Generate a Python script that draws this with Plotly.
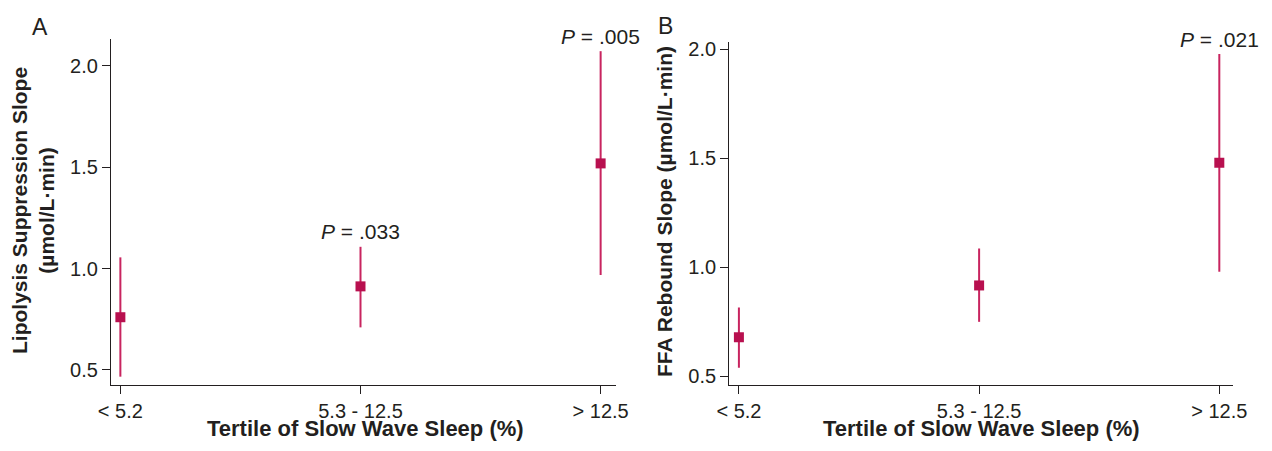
import plotly.graph_objects as go

categories = ["< 5.2", "5.3 - 12.5", "> 12.5"]

# Panel A: Lipolysis suppression slope
a_mean = [0.76, 0.912, 1.518]
a_upper = [1.055, 1.107, 2.071]
a_lower = [0.467, 0.710, 0.968]
a_pvals = [None, ".033", ".005"]

# Panel B: FFA rebound slope
b_mean = [0.678, 0.916, 1.479]
b_upper = [0.815, 1.086, 1.978]
b_lower = [0.538, 0.749, 0.979]
b_pvals = [None, None, ".021"]

ytick_vals = [0.5, 1.0, 1.5, 2.0]
ytick_text = ["0.5", "1.0", "1.5", "2.0"]

x_title = "Tertile of Slow Wave Sleep (%)"
a_y_title = "Lipolysis Suppression Slope<br>(µmol/L·min)"
b_y_title = "FFA Rebound Slope (µmol/L·min)"

MARK = "#B8104F"
BAR = "#C8245F"
INK = "#231F20"
FONT = "Liberation Sans, Arial, Helvetica, sans-serif"

# page body has an 8px margin; figure sized to fit inside the window
OFF = 8
W, H = 1272 - 2 * OFF, 451 - 2 * OFF

def px(x):
    return (x - OFF) / W

def py(y):
    return 1 - (y - OFF) / H

fig = go.Figure()

def add_panel(mean, upper, lower, xa, ya):
    xs = list(range(len(categories)))
    fig.add_trace(go.Scatter(
        x=xs, y=mean, xaxis=xa, yaxis=ya, mode="markers",
        marker=dict(symbol="square", size=10, color=MARK),
        error_y=dict(type="data", symmetric=False,
                     array=[u - m for u, m in zip(upper, mean)],
                     arrayminus=[m - l for m, l in zip(mean, lower)],
                     color=BAR, thickness=2, width=0),
        showlegend=False, hoverinfo="skip"))

add_panel(a_mean, a_upper, a_lower, "x", "y")
add_panel(b_mean, b_upper, b_lower, "x2", "y2")

axis_common = dict(showline=True, linecolor=INK, linewidth=1.3, ticks="outside",
                   ticklen=8, tickwidth=1.3, tickcolor=INK, showgrid=False,
                   zeroline=False, automargin=False,
                   tickfont=dict(family=FONT, size=20, color=INK))

xaxis_common = dict(axis_common, tickvals=[0, 1, 2], ticktext=categories)
yaxis_common = dict(axis_common, tickvals=ytick_vals, ticktext=ytick_text)

fig.update_layout(
    width=W, height=H,
    margin=dict(l=0, r=0, t=0, b=0),
    plot_bgcolor="white", paper_bgcolor="white",
    font=dict(family=FONT, color=INK),
    xaxis=dict(xaxis_common, domain=[px(111), px(616)], range=[-0.039, 2.064], anchor="y"),
    yaxis=dict(yaxis_common, domain=[py(385), py(39)], range=[0.426, 2.131], anchor="x"),
    xaxis2=dict(xaxis_common, domain=[px(729.3), px(1233)], range=[-0.04, 2.057], anchor="y2"),
    yaxis2=dict(yaxis_common, domain=[py(385), py(41.7)], range=[0.459, 2.035], anchor="x2"),
)

def add_pvals(pvals, upper, xref, yref):
    for i, p in enumerate(pvals):
        if p is None:
            continue
        fig.add_annotation(x=i, y=upper[i], xref=xref, yref=yref,
                           text="<i>P</i> = " + p, showarrow=False,
                           yanchor="middle", yshift=15,
                           font=dict(family=FONT, size=21, color=INK))

add_pvals(a_pvals, a_upper, "x", "y")
add_pvals(b_pvals, b_upper, "x2", "y2")

def paper_text(text, x, y, size, angle=0, yanchor="middle"):
    fig.add_annotation(x=px(x), y=py(y), xref="paper", yref="paper", text=text,
                       showarrow=False, xanchor="center", yanchor=yanchor,
                       textangle=angle, font=dict(family=FONT, size=size, color=INK))

# axis titles (x titles anchored at the bottom edge of the figure)
paper_text("<b>" + x_title + "</b>", 365, 443, 22, yanchor="bottom")
paper_text("<b>" + x_title + "</b>", 981, 443, 22, yanchor="bottom")
paper_text("<b>" + a_y_title + "</b>", 33, 211, 21, -90)
paper_text("<b>" + b_y_title + "</b>", 664, 212, 21, -90)

# panel letters
paper_text("A", 40, 27, 23)
paper_text("B", 665, 26, 23)

fig.write_html("out.html")
